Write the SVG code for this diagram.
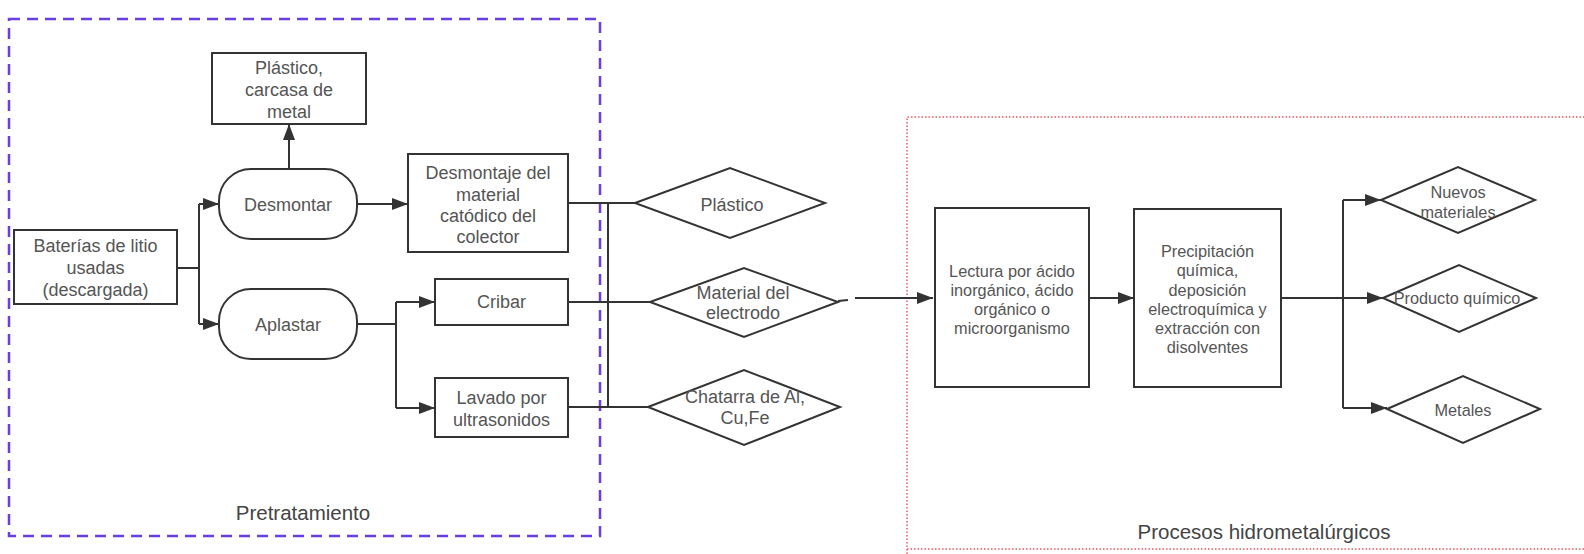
<svg xmlns="http://www.w3.org/2000/svg" width="1584" height="554" viewBox="0 0 1584 554">
<defs>
<style>
.box{fill:#fff;stroke:#333;stroke-width:2}
.ln{fill:none;stroke:#333;stroke-width:2}
.t{font-family:"Liberation Sans",Arial,sans-serif;font-size:18px;fill:#555;text-anchor:middle}
.r{font-size:16.3px}
.lbl{font-family:"Liberation Sans",Arial,sans-serif;font-size:20.5px;fill:#444;text-anchor:middle}
</style>
<marker id="ar" viewBox="0 0 16 12" refX="16" refY="6" markerWidth="16" markerHeight="12" markerUnits="userSpaceOnUse" orient="auto">
<path d="M0,0 L16,6 L0,12 Z" fill="#333"/>
</marker>
</defs>
<rect width="1584" height="554" fill="#fff"/>

<g id="group-pretratamiento">
<rect x="9" y="19" width="591" height="517" fill="none" stroke="#6a3fe0" stroke-width="2.5" stroke-dasharray="11 7"/>
<text class="lbl" x="303" y="520">Pretratamiento</text>
</g>
<g id="group-hidro">
<path d="M907,554 L907,117 L1584,117 M907,549 L1584,549" fill="none" stroke="#e8586a" stroke-width="1.5" stroke-dasharray="1.5 2"/>
<text class="lbl" x="1264" y="539">Procesos hidrometalúrgicos</text>
</g>

<g id="connectors">
<path class="ln" d="M289,169 L289,124" marker-end="url(#ar)"/>
<path class="ln" d="M357,204 L408,204" marker-end="url(#ar)"/>
<path class="ln" d="M177,268 L199,268"/>
<path class="ln" d="M199,204 L199,324"/>
<path class="ln" d="M199,204 L219,204" marker-end="url(#ar)"/>
<path class="ln" d="M199,324 L219,324" marker-end="url(#ar)"/>
<path class="ln" d="M357,324 L396,324"/>
<path class="ln" d="M396,302 L396,408"/>
<path class="ln" d="M396,302 L435,302" marker-end="url(#ar)"/>
<path class="ln" d="M396,408 L435,408" marker-end="url(#ar)"/>
<path class="ln" d="M568,203 L635,203"/>
<path class="ln" d="M568,302 L650,302"/>
<path class="ln" d="M568,407 L648,407"/>
<path class="ln" d="M608,203 L608,407"/>
<path class="ln" d="M838,301 L848,300"/>
<path class="ln" d="M855,298 L933,298" marker-end="url(#ar)"/>
<path class="ln" d="M1089,298 L1134,298" marker-end="url(#ar)"/>
<path class="ln" d="M1281,298 L1343,298"/>
<path class="ln" d="M1343,200 L1343,408"/>
<path class="ln" d="M1343,200 L1381,200" marker-end="url(#ar)"/>
<path class="ln" d="M1343,298 L1383,298" marker-end="url(#ar)"/>
<path class="ln" d="M1343,408 L1387,408" marker-end="url(#ar)"/>
</g>

<g id="n-plastico-carcasa">
<rect class="box" x="212" y="53" width="154" height="71"/>
<text class="t" x="289" y="74">Plástico,</text>
<text class="t" x="289" y="96">carcasa de</text>
<text class="t" x="289" y="118">metal</text>
</g>
<g id="n-desmontar">
<rect class="box" x="219" y="169" width="138" height="70" rx="32"/>
<text class="t" x="288" y="211">Desmontar</text>
</g>
<g id="n-desmontaje">
<rect class="box" x="408" y="154" width="160" height="98"/>
<text class="t" x="488" y="179">Desmontaje del</text>
<text class="t" x="488" y="201">material</text>
<text class="t" x="488" y="222">catódico del</text>
<text class="t" x="488" y="243">colector</text>
</g>
<g id="n-baterias">
<rect class="box" x="14" y="230" width="163" height="74"/>
<text class="t" x="95.5" y="252">Baterías de litio</text>
<text class="t" x="95.5" y="274">usadas</text>
<text class="t" x="95.5" y="296">(descargada)</text>
</g>
<g id="n-aplastar">
<rect class="box" x="219" y="289" width="138" height="70" rx="32"/>
<text class="t" x="288" y="331">Aplastar</text>
</g>
<g id="n-cribar">
<rect class="box" x="435" y="279" width="133" height="46"/>
<text class="t" x="501.5" y="308">Cribar</text>
</g>
<g id="n-lavado">
<rect class="box" x="435" y="378" width="133" height="59"/>
<text class="t" x="501.5" y="404">Lavado por</text>
<text class="t" x="501.5" y="426">ultrasonidos</text>
</g>
<g id="n-plastico">
<polygon class="box" points="635,203 730,168 825,203 730,238"/>
<text class="t" x="732" y="211">Plástico</text>
</g>
<g id="n-material">
<polygon class="box" points="650,302 744,268 838,302 744,337"/>
<text class="t" x="743" y="299">Material del</text>
<text class="t" x="743" y="319">electrodo</text>
</g>
<g id="n-chatarra">
<polygon class="box" points="648,407 744,370 840,407 744,445"/>
<text class="t" x="745" y="403">Chatarra de Al,</text>
<text class="t" x="745" y="424">Cu,Fe</text>
</g>
<g id="n-lectura">
<rect class="box" x="935" y="208" width="154" height="179"/>
<text class="t r" x="1012" y="277">Lectura por ácido</text>
<text class="t r" x="1012" y="296">inorgánico, ácido</text>
<text class="t r" x="1012" y="315">orgánico o</text>
<text class="t r" x="1012" y="334">microorganismo</text>
</g>
<g id="n-precipitacion">
<rect class="box" x="1134" y="209" width="147" height="178"/>
<text class="t r" x="1207.5" y="257">Precipitación</text>
<text class="t r" x="1207.5" y="276">química,</text>
<text class="t r" x="1207.5" y="296">deposición</text>
<text class="t r" x="1207.5" y="315">electroquímica y</text>
<text class="t r" x="1207.5" y="334">extracción con</text>
<text class="t r" x="1207.5" y="353">disolventes</text>
</g>
<g id="n-nuevos">
<polygon class="box" points="1381,200 1458,167 1535,200 1458,233"/>
<text class="t r" x="1458" y="198">Nuevos</text>
<text class="t r" x="1458" y="218">materiales</text>
</g>
<g id="n-producto">
<polygon class="box" points="1383,298 1459,265 1536,298 1459,332"/>
<text class="t r" x="1457" y="304">Producto químico</text>
</g>
<g id="n-metales">
<polygon class="box" points="1387,409 1463,376 1540,409 1463,443"/>
<text class="t r" x="1463" y="416">Metales</text>
</g>
</svg>
